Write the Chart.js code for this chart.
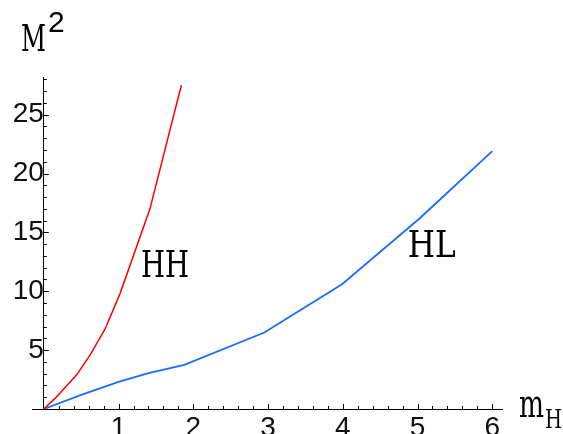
<!DOCTYPE html>
<html lang="en">
<head>
    <meta charset="UTF-8">
    <title>M^2 vs m_H</title>
    <script src="https://cdn.jsdelivr.net/npm/chart.js"></script>
    <style>
        body {
            margin: 0;
            background: white;
        }
        .chart-container {
            width: 563px;
            height: 434px;
        }
    </style>
</head>
<body>
    <div class="chart-container">
        <canvas id="massChart"></canvas>
    </div>

    <script>
        // HH branch (red)
        const hhX = [0, 0.15, 0.44, 0.62, 0.82, 1.02, 1.42, 1.84];
        const hhY = [0, 0.9, 2.9, 4.6, 6.8, 9.8, 17.0, 27.5];

        // HL branch (blue)
        const hlX = [0, 0.5, 1.0, 1.4, 1.88, 2.95, 3.99, 5.03, 6.0];
        const hlY = [0, 1.2, 2.3, 3.05, 3.75, 6.5, 10.6, 16.2, 21.9];

        // tick labels
        const xTicks = [1, 2, 3, 4, 5, 6];
        const yTicks = [5, 10, 15, 20, 25];

        const tickFont = { family: "'Liberation Sans Narrow', 'Liberation Sans', sans-serif", size: 28 };

        function pairs(xs, ys) {
            return xs.map((x, i) => ({ x: x, y: ys[i] }));
        }

        // serif text squeezed to a fixed advance per character (like Courier)
        function serifText(ctx, text, x, y, size, advance) {
            ctx.save();
            ctx.font = size + 'px "DejaVu Serif"';
            const w = ctx.measureText(text).width;
            const sx = (advance * text.length) / w;
            ctx.translate(x, y);
            ctx.scale(sx, 1);
            ctx.fillStyle = '#000';
            ctx.textBaseline = 'alphabetic';
            ctx.fillText(text, 0, 0);
            ctx.restore();
        }

        // inward minor/major ticks and the text labels
        const decorPlugin = {
            id: 'decor',
            afterDraw(chart) {
                const ctx = chart.ctx;
                const xs = chart.scales.x;
                const ys = chart.scales.y;
                const x0 = xs.getPixelForValue(0);
                const y0 = ys.getPixelForValue(0);
                ctx.save();
                ctx.strokeStyle = '#000';
                ctx.lineWidth = 1;
                ctx.beginPath();
                for (let i = 1; i <= 30; i++) {
                    const px = Math.round(xs.getPixelForValue(i / 5)) + 0.5;
                    const len = i % 5 === 0 ? 5 : 3;
                    ctx.moveTo(px, y0);
                    ctx.lineTo(px, y0 - len);
                }
                for (let j = 1; j <= 28; j++) {
                    const py = Math.round(ys.getPixelForValue(j)) + 0.5;
                    const len = j % 5 === 0 ? 5 : 3;
                    ctx.moveTo(x0, py);
                    ctx.lineTo(x0 + len, py);
                }
                ctx.stroke();
                ctx.restore();

                // curve labels
                serifText(ctx, 'HH', xs.getPixelForValue(1.30), ys.getPixelForValue(11.2), 37, 24);
                serifText(ctx, 'HL', xs.getPixelForValue(4.87), ys.getPixelForValue(12.9), 37, 24);

                // axis titles
                serifText(ctx, 'M', 21, 51, 38, 25);
                ctx.save();
                ctx.font = "30px 'Liberation Sans', sans-serif";
                ctx.fillStyle = '#000';
                ctx.fillText('2', 48, 32);
                ctx.restore();
                serifText(ctx, 'm', 519, 417, 40, 25);
                serifText(ctx, 'H', 545, 428, 26, 17);
            }
        };

        const ctx = document.getElementById('massChart').getContext('2d');
        new Chart(ctx, {
            type: 'line',
            data: {
                datasets: [
                    {
                        label: 'HH',
                        data: pairs(hhX, hhY),
                        borderColor: '#ff0000',
                        borderWidth: 1.5,
                        pointRadius: 0,
                        tension: 0,
                        fill: false
                    },
                    {
                        label: 'HL',
                        data: pairs(hlX, hlY),
                        borderColor: '#1a6cff',
                        borderWidth: 1.8,
                        pointRadius: 0,
                        tension: 0,
                        fill: false
                    }
                ]
            },
            options: {
                responsive: true,
                maintainAspectRatio: false,
                animation: false,
                layout: {
                    padding: { left: 32, right: 61, top: 77, bottom: 25 }
                },
                scales: {
                    x: {
                        type: 'linear',
                        position: { y: 0 },
                        min: -0.158,
                        max: 6.13,
                        afterBuildTicks: (scale) => {
                            scale.ticks = xTicks.map(v => ({ value: v }));
                        },
                        grid: { display: false, drawTicks: false },
                        border: { display: true, color: '#000', width: 1 },
                        ticks: {
                            color: '#111',
                            font: tickFont,
                            padding: 2,
                            maxRotation: 0
                        }
                    },
                    y: {
                        type: 'linear',
                        position: { x: 0 },
                        min: 0,
                        max: 28.2,
                        afterBuildTicks: (scale) => {
                            scale.ticks = yTicks.map(v => ({ value: v }));
                        },
                        grid: { display: false, drawTicks: false },
                        border: { display: true, color: '#000', width: 1 },
                        ticks: {
                            color: '#111',
                            font: tickFont,
                            padding: 6
                        }
                    }
                },
                plugins: {
                    legend: { display: false },
                    tooltip: { enabled: false }
                }
            },
            plugins: [decorPlugin]
        });
    </script>
</body>
</html>
